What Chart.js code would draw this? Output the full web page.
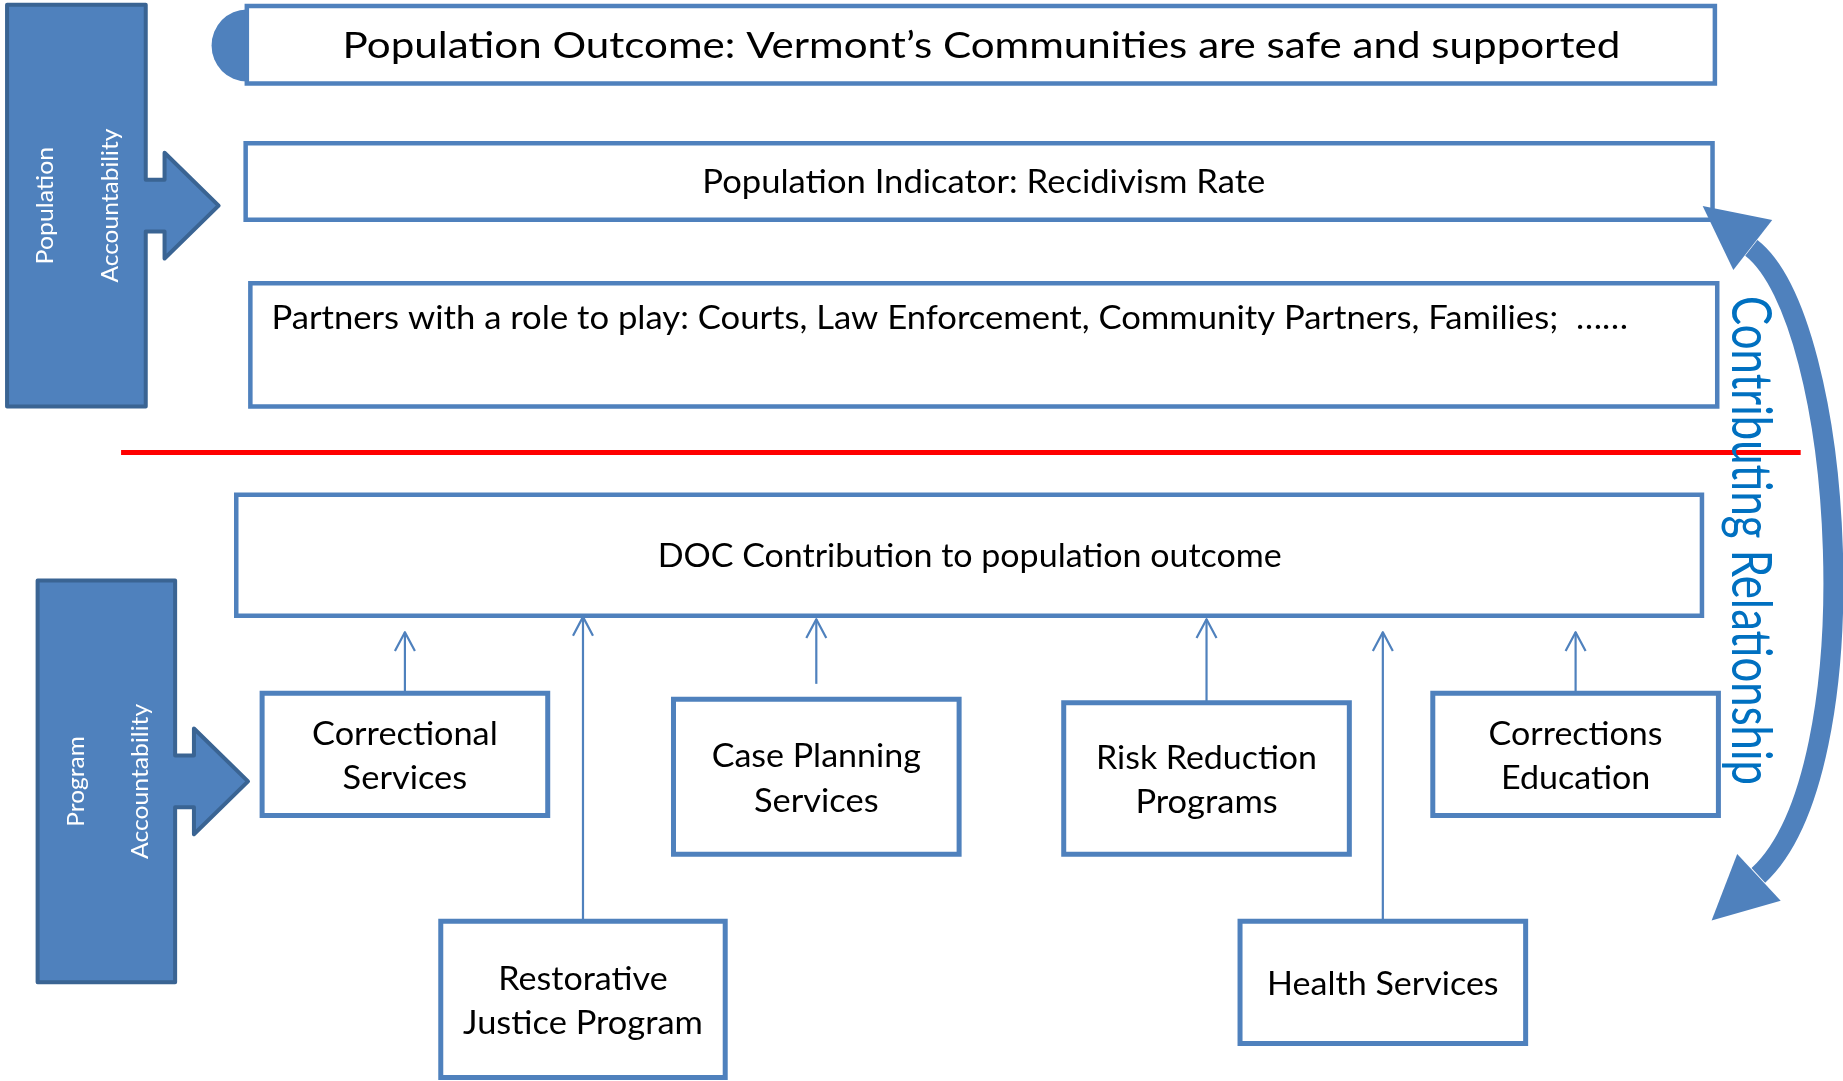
<!DOCTYPE html>
<html>
<head>
<meta charset="utf-8">
<title>Population and program accountability</title>
<script src="https://cdn.jsdelivr.net/npm/chart.js@4.4.1/dist/chart.umd.min.js"></script>
<style>
    html, body { margin: 0; padding: 0; background: #ffffff; }
    #wrap { width: 1843px; height: 1081px; }
</style>
</head>
<body>
<div id="wrap"><canvas id="diagram"></canvas></div>
<script>

// every number below is in diagram units (the reference measured at 1568 x 920)
const unitsX = 1568;
const unitsY = 920;

// boxes of the population part, plus the DOC box
const headNames = [
    "Population Outcome: Vermont’s Communities are safe and supported",
    "Population Indicator: Recidivism Rate",
    "Partners with a role to play: Courts, Law Enforcement, Community Partners, Families;  ……",
    "DOC Contribution to population outcome"
];
const headLeft = [210, 209, 213, 201];
const headRight = [1459, 1457, 1461, 1448];
const headTop = [5, 122, 241, 421];
const headBottom = [71, 187, 346, 524];

// program boxes under the DOC box
const programNames = [
    ["Correctional", "Services"],
    ["Case Planning", "Services"],
    ["Risk Reduction", "Programs"],
    ["Corrections", "Education"],
    ["Restorative", "Justice Program"],
    ["Health Services"]
];
const programLeft = [223, 573, 905, 1219, 375, 1055];
const programRight = [466, 816, 1148, 1462, 617, 1298];
const programTop = [590, 595, 598, 590, 784, 784];
const programBottom = [694, 727, 727, 694, 917, 888];
const connectorFrom = [590, 582, 598, 590, 784, 784];
const connectorTip = [538, 527, 527, 538, 525, 538];

// the two accountability block arrows
const sideNames = [["Population", "Accountability"], ["Program", "Accountability"]];
const sideLeft = [6, 32];
const sideRight = [124, 149];
const sideTop = [4, 494];
const sideBottom = [346, 836];
const sideTipX = [186, 211];
const sideTipY = [175, 665];

// red divider
const dividerX = [103, 1532];
const dividerY = 385;

// the curved "Contributing Relationship" arrow
const curveLabel = "Contributing Relationship";
const curvePath = [[1490, 211], [1570, 273], [1593, 655], [1496, 745]];
const curveHeadTop = [[1448.6, 175.3], [1507.8, 187.2], [1474.7, 229.7]];
const curveHeadBottom = [[1456.2, 783.3], [1478, 726.8], [1515, 766.6]];

const BLUE = "#4f81bd";
const DARK_BLUE = "#3a6493";

// text widths (diagram units)
const headTextWidth = [1087, 479, 1154, 531];
const headTextCenter = [835, 837, 808, 825];
const programTextWidth = [[158, 106], [178, 106], [188, 121], [148, 127], [144, 204], [197]];
const sideTextWidth = [[100, 131], [77, 132]];

function rectPoints(l, t, r, b) {
    return [{x: l, y: t}, {x: r, y: t}, {x: r, y: b}, {x: l, y: b}, {x: l, y: t}];
}

function lineSet(points, color, width, extra) {
    return Object.assign({
        data: points,
        showLine: true,
        borderColor: color,
        borderWidth: width,
        pointRadius: 0,
        fill: false,
        tension: 0,
        borderJoinStyle: "miter",
        borderCapStyle: "square"
    }, extra || {});
}

const datasets = [];

headNames.forEach((name, i) => {
    datasets.push(lineSet(rectPoints(headLeft[i], headTop[i], headRight[i], headBottom[i]), BLUE, 4.5));
});

programNames.forEach((name, i) => {
    datasets.push(lineSet(rectPoints(programLeft[i], programTop[i], programRight[i], programBottom[i]), BLUE, 5));
    const cx = (programLeft[i] + programRight[i]) / 2;
    datasets.push(lineSet([{x: cx, y: connectorFrom[i]}, {x: cx, y: connectorTip[i]}], BLUE, 2.2, {borderCapStyle: "butt"}));
    datasets.push(lineSet([
        {x: cx - 8.5, y: connectorTip[i] + 16},
        {x: cx, y: connectorTip[i]},
        {x: cx + 8.5, y: connectorTip[i] + 16}
    ], BLUE, 2.2, {borderCapStyle: "butt", borderJoinStyle: "round"}));
});

datasets.push(lineSet([{x: dividerX[0], y: dividerY}, {x: dividerX[1], y: dividerY}], "#ff0000", 5, {borderCapStyle: "butt"}));

function fitText(ctx, text, cx, cy, size, width, color, angle) {
    ctx.save();
    ctx.translate(cx, cy);
    if (angle) ctx.rotate(angle);
    ctx.font = size + "px Lato";
    const w = ctx.measureText(text).width;
    ctx.scale(width / w, 1);
    ctx.fillStyle = color;
    ctx.textAlign = "center";
    ctx.textBaseline = "alphabetic";
    ctx.fillText(text, 0, size * 0.35);
    ctx.restore();
}

const diagramPlugin = {
    id: "diagram",
    beforeDatasetsDraw(chart) {
        const ctx = chart.ctx;
        const X = v => chart.scales.x.getPixelForValue(v);
        const Y = v => chart.scales.y.getPixelForValue(v);

        // accountability block arrows
        sideNames.forEach((n, i) => {
            const midY = sideTipY[i];
            const stub = sideRight[i] + 16;
            const shape = [
                [sideLeft[i], sideTop[i]], [sideRight[i], sideTop[i]],
                [sideRight[i], midY - 22], [stub, midY - 22], [stub, midY - 45],
                [sideTipX[i], midY],
                [stub, midY + 45], [stub, midY + 22], [sideRight[i], midY + 22],
                [sideRight[i], sideBottom[i]], [sideLeft[i], sideBottom[i]]
            ];
            ctx.save();
            ctx.beginPath();
            shape.forEach((p, k) => k ? ctx.lineTo(X(p[0]), Y(p[1])) : ctx.moveTo(X(p[0]), Y(p[1])));
            ctx.closePath();
            ctx.fillStyle = BLUE;
            ctx.fill();
            ctx.lineWidth = 4;
            ctx.lineJoin = "round";
            ctx.strokeStyle = DARK_BLUE;
            ctx.stroke();
            ctx.restore();
        });

        // half disc on the outcome box
        const cy = (headTop[0] + headBottom[0]) / 2 + 0.7;
        ctx.save();
        ctx.beginPath();
        ctx.ellipse(X(headLeft[0]), Y(cy), X(headLeft[0]) - X(180), Y(cy + 30.7) - Y(cy), 0, Math.PI / 2, Math.PI * 1.5);
        ctx.closePath();
        ctx.fillStyle = BLUE;
        ctx.fill();
        ctx.restore();
    },
    afterDatasetsDraw(chart) {
        const ctx = chart.ctx;
        const X = v => chart.scales.x.getPixelForValue(v);
        const Y = v => chart.scales.y.getPixelForValue(v);
        const k = X(1) - X(0);

        // curved double arrow
        ctx.save();
        ctx.strokeStyle = BLUE;
        ctx.lineWidth = 20;
        ctx.beginPath();
        ctx.moveTo(X(curvePath[0][0]), Y(curvePath[0][1]));
        ctx.bezierCurveTo(X(curvePath[1][0]), Y(curvePath[1][1]), X(curvePath[2][0]), Y(curvePath[2][1]), X(curvePath[3][0]), Y(curvePath[3][1]));
        ctx.stroke();
        ctx.fillStyle = BLUE;
        [curveHeadTop, curveHeadBottom].forEach(tri => {
            ctx.beginPath();
            tri.forEach((p, j) => j ? ctx.lineTo(X(p[0]), Y(p[1])) : ctx.moveTo(X(p[0]), Y(p[1])));
            ctx.closePath();
            ctx.fill();
        });
        ctx.restore();

        // texts
        headNames.forEach((name, i) => {
            const size = (i === 0 ? 32 : 27.6) * k;
            fitText(ctx, name, X(headTextCenter[i]), Y(i === 2 ? 270 : (headTop[i] + headBottom[i]) / 2), size, headTextWidth[i] * k, "#000000");
        });

        programNames.forEach((lines, i) => {
            const cx = (programLeft[i] + programRight[i]) / 2;
            const mid = (programTop[i] + programBottom[i]) / 2 + 1;
            lines.forEach((line, j) => {
                const y = mid + (j - (lines.length - 1) / 2) * 38;
                fitText(ctx, line, X(cx), Y(y), 27.6 * k, programTextWidth[i][j] * k, "#000000");
            });
        });

        sideNames.forEach((lines, i) => {
            const textX = [sideLeft[i] + 32, sideLeft[i] + 87];
            lines.forEach((line, j) => {
                fitText(ctx, line, X(textX[j]), Y(sideTipY[i]), 20.2 * k, sideTextWidth[i][j] * k, "#ffffff", -Math.PI / 2);
            });
        });

        fitText(ctx, curveLabel, X(1490), Y(460), 47 * k, 416 * k, "#0070c0", Math.PI / 2);
    }
};

new Chart(document.getElementById("diagram"), {
    type: "scatter",
    data: { datasets: datasets },
    options: {
        responsive: true,
        maintainAspectRatio: false,
        animation: false,
        events: [],
        layout: { padding: 0 },
        plugins: {
            legend: { display: false },
            tooltip: { enabled: false }
        },
        scales: {
            x: { type: "linear", min: 0, max: unitsX, display: false },
            y: { type: "linear", min: 0, max: unitsY, reverse: true, display: false }
        }
    },
    plugins: [diagramPlugin]
});

</script>
</body>
</html>
